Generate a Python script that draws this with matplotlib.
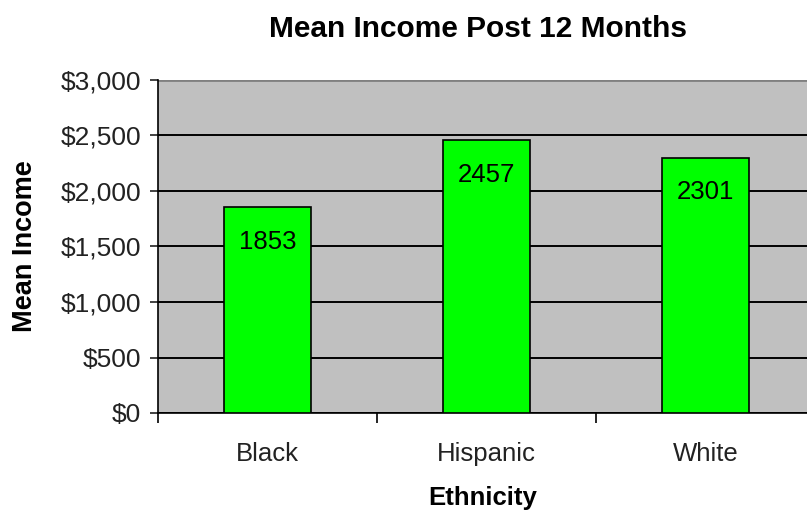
import numpy as np
import matplotlib
matplotlib.use('agg')
import matplotlib.pyplot as plt
from matplotlib.ticker import FuncFormatter, FixedLocator

plt.rcParams['font.family'] = ['Liberation Sans', 'DejaVu Sans']

## Datos
categorias = ['Black', 'Hispanic', 'White']
ingreso    = [1853, 2457, 2301]
yticks     = [0, 500, 1000, 1500, 2000, 2500, 3000]

## Figura
fig = plt.figure(figsize=(8.07, 5.16), dpi=100)
ax = fig.add_axes([158/807, 1 - 413/516, 1 - 158/807, (413 - 80)/516])
ax.set_facecolor('#c0c0c0')

x = np.arange(len(categorias))
bars = ax.bar(x, ingreso, width=0.4, color='#00ff00', edgecolor='black',
              linewidth=1.2, zorder=3)

# valores dentro de las barras
for xi, v in zip(x, ingreso):
    ax.annotate('%d' % v, (xi, v), xytext=(0, -25), textcoords='offset points',
                ha='center', va='center', fontsize=18.5, zorder=4)

ax.set_ylim(0, 3000)
ax.set_xlim(-0.5, -0.5 + (807 - 158)/219)
ax.set_yticks(yticks)
ax.yaxis.set_major_formatter(FuncFormatter(lambda v, p: '${:,.0f}'.format(v)))
ax.grid(axis='y', color='black', linewidth=1.4, zorder=1)
ax.axhline(3000, color='#808080', linewidth=2, zorder=2)

# ticks de categoria en los bordes, etiquetas en el centro
ax.xaxis.set_major_locator(FixedLocator([-0.5, 0.5, 1.5]))
ax.xaxis.set_major_formatter(plt.NullFormatter())
ax.xaxis.set_minor_locator(FixedLocator(x))
ax.set_xticklabels(categorias, minor=True)
ax.tick_params(axis='x', which='minor', length=0, pad=21, labelsize=18.5,
               colors='#222222')
ax.tick_params(axis='x', which='major', length=7, width=1.2)
ax.tick_params(axis='y', length=6, width=1.2, labelsize=19, pad=6,
               colors='#222222')

for s in ['top', 'right']:
    ax.spines[s].set_visible(False)
ax.spines['left'].set_linewidth(1.2)
ax.spines['bottom'].set_linewidth(1.2)

ax.set_xlabel('Ethnicity', fontsize=18.5, fontweight='bold', labelpad=14)
ax.set_ylabel('Mean Income', fontsize=19.5, fontweight='bold', labelpad=16)
fig.text(478/807, 1 - 29/516, 'Mean Income Post 12 Months', ha='center',
         va='center', fontsize=21.5, fontweight='bold')

plt.savefig('out.png', dpi=100)
